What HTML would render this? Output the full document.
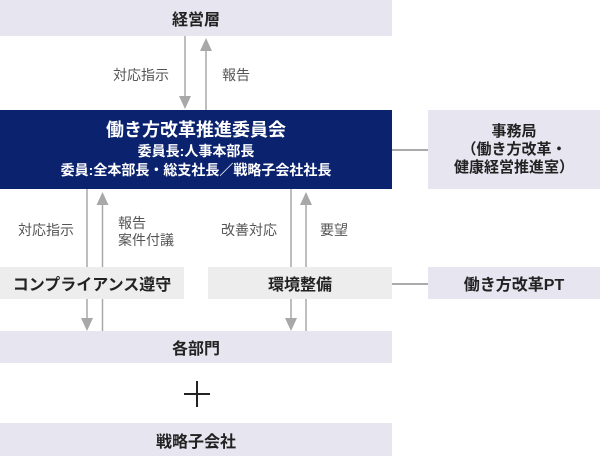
<!DOCTYPE html>
<html><head><meta charset="utf-8"><style>
body{margin:0;width:600px;height:456px;position:relative;background:#fff;font-family:"Liberation Sans","Noto Sans CJK JP",sans-serif;overflow:hidden}
.b{position:absolute;display:flex;align-items:center;justify-content:center;text-align:center;color:#222;font-weight:bold;font-size:16px}
.l{background:#e6e5f0}.g{background:#ededed}
.t{position:absolute;color:#555;font-size:14px;line-height:17px}
</style></head><body>
<div class="b l" style="left:0;top:0;width:392px;height:36px">経営層</div>
<div class="b" style="left:0;top:110px;width:392px;height:79px;background:#0b236f;color:#fff;flex-direction:column;line-height:19px">
<div style="font-size:18px;line-height:23px">働き方改革推進委員会</div>
<div style="font-size:14px">委員長:人事本部長</div>
<div style="font-size:14px">委員:全本部長・総支社長／戦略子会社社長</div></div>
<div class="b l" style="left:428px;top:110px;width:172px;height:79px;flex-direction:column;font-size:15px;line-height:18px"><div>事務局</div><div>（働き方改革・</div><div>健康経営推進室）</div></div>
<div class="b g" style="left:0;top:267px;width:184px;height:32px">コンプライアンス遵守</div>
<div class="b g" style="left:208px;top:267px;width:184px;height:32px">環境整備</div>
<div class="b l" style="left:428px;top:267px;width:172px;height:32px">働き方改革PT</div>
<div class="b l" style="left:0;top:331px;width:392px;height:32px">各部門</div>
<div class="b l" style="left:0;top:423px;width:392px;height:33px">戦略子会社</div>
<svg width="600" height="456" style="position:absolute;left:0;top:0">
<g stroke="#a8a8a8" stroke-width="1.5" fill="none">
<line x1="185" y1="36" x2="185" y2="98"/><line x1="206" y1="48" x2="206" y2="110"/>
<line x1="87" y1="189" x2="87" y2="267"/><line x1="102.5" y1="201" x2="102.5" y2="267"/>
<line x1="291" y1="189" x2="291" y2="267"/><line x1="306" y1="201" x2="306" y2="267"/>
<line x1="87" y1="299" x2="87" y2="320"/><line x1="102.5" y1="299" x2="102.5" y2="331"/>
<line x1="291" y1="299" x2="291" y2="320"/><line x1="306" y1="299" x2="306" y2="331"/>
</g>
<g stroke="#555" stroke-width="1"><line x1="392" y1="150" x2="428" y2="150"/><line x1="392" y1="284" x2="428" y2="284"/></g>
<g fill="#a8a8a8">
<polygon points="179,96 191,96 185,109"/><polygon points="200,51 212,51 206,38"/>
<polygon points="96.5,205 108.5,205 102.5,192"/><polygon points="300,205 312,205 306,192"/>
<polygon points="81,318 93,318 87,331"/><polygon points="285,318 297,318 291,331"/>
</g>
<g stroke="#222" stroke-width="2"><line x1="184" y1="394" x2="210" y2="394"/><line x1="197" y1="381" x2="197" y2="407"/></g>
</svg>
<div class="t" style="left:113px;top:67px">対応指示</div>
<div class="t" style="left:222px;top:67px">報告</div>
<div class="t" style="left:18px;top:222px">対応指示</div>
<div class="t" style="left:118px;top:215px">報告<br>案件付議</div>
<div class="t" style="left:221px;top:222px">改善対応</div>
<div class="t" style="left:320px;top:222px">要望</div>
</body></html>
